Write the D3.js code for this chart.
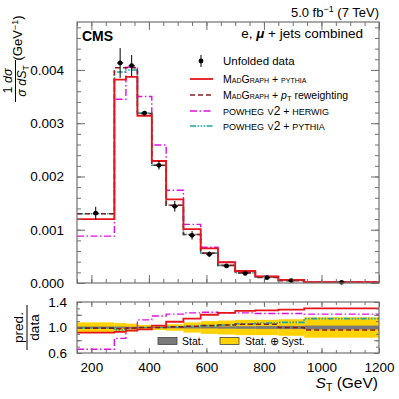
<!DOCTYPE html>
<html>
<head>
<meta charset="utf-8">
<script src="https://cdn.jsdelivr.net/npm/d3@7"></script>
<style>
body { margin: 0; background: #fff; }
text { font-family: "Liberation Sans", Arial, Helvetica, sans-serif; fill: #000; }
</style>
</head>
<body>
<svg id="chart" width="399" height="399"></svg>
<script>
// bin edges of S_T (GeV)
var binEdges = [150, 280, 320, 360, 410, 460, 520, 580, 640, 700, 770, 850, 940, 1200];

// unfolded data and its total uncertainty
var dataVals = [0.00131, 0.00413, 0.00408, 0.00319, 0.00221, 0.00144, 0.000895, 0.00054, 0.00032, 0.00018, 0.0001, 0.000045, 0.000013];
var dataErrs = [0.00012, 0.00028, 0.0002, 0.00004, 0.00008, 0.0001, 0.00008, 0.00005, 0.00003, 0.00002, 0.00001, 0.000006, 0.000003];

// predictions, upper panel
var mgPythia   = [0.0012, 0.00382, 0.00387, 0.00314, 0.00229, 0.00157, 0.00101, 0.00065, 0.00039, 0.000225, 0.000125, 0.000058, 0.000017];
var mgPtRew    = [0.0013, 0.00404, 0.00404, 0.00318, 0.00221, 0.00146, 0.00091, 0.00056, 0.00033, 0.00019, 0.000105, 0.000045, 0.000013];
var powHerwig  = [0.00088, 0.00345, 0.00405, 0.0035, 0.00259, 0.00174, 0.0011, 0.00067, 0.00039, 0.00022, 0.000122, 0.000055, 0.000016];
var powPythia  = [0.0013, 0.00396, 0.004, 0.00319, 0.00221, 0.00146, 0.00091, 0.00056, 0.00033, 0.00019, 0.000107, 0.000049, 0.000015];

// pred./data, lower panel
var rMgPythia  = [0.92, 0.93, 0.95, 0.97, 1.03, 1.09, 1.14, 1.2, 1.23, 1.26, 1.27, 1.28, 1.3];
var rMgPtRew   = [0.99, 0.98, 0.99, 1.0, 1.0, 1.01, 1.02, 1.03, 1.04, 1.05, 1.05, 1.0, 0.96];
var rPowHerwig = [0.66, 0.83, 0.99, 1.12, 1.18, 1.21, 1.23, 1.24, 1.23, 1.23, 1.22, 1.22, 1.21];
var rPowPythia = [0.99, 0.96, 0.98, 1.0, 1.0, 1.01, 1.02, 1.03, 1.04, 1.06, 1.07, 1.08, 1.14];

// relative uncertainty bands (half widths)
var statBand  = [0.015, 0.015, 0.012, 0.008, 0.01, 0.012, 0.015, 0.015, 0.018, 0.02, 0.022, 0.025, 0.03];
var totalBand = [0.08, 0.07, 0.06, 0.04, 0.04, 0.05, 0.08, 0.1, 0.11, 0.12, 0.12, 0.13, 0.16];

var mainTicks = [0, 0.001, 0.002, 0.003, 0.004];
var ratioTicks = [0.6, 1.0, 1.4];
var xTicks = [200, 400, 600, 800, 1000, 1200];

var svg = d3.select("#chart");
var left = 77, right = 379;
var mainTop = 22, mainBot = 283;
var ratTop = 302, ratBot = 353;

var x = d3.scaleLinear().domain([150, 1200]).range([left, right]);
var y = d3.scaleLinear().domain([0, 0.0049]).range([mainBot, mainTop]);
var yr = d3.scaleLinear().domain([0.6, 1.4]).range([ratBot, ratTop]);

var models = [
    {main: powHerwig, ratio: rPowHerwig, color: "#e010e0", width: 1.4, dash: "7,2.5,1.5,2.5"},
    {main: powPythia, ratio: rPowPythia, color: "#1aa6a6", width: 1.6, dash: "6,1.5,1.5,1.5,1.5,1.5,1.5,1.5"},
    {main: mgPtRew, ratio: rMgPtRew, color: "#8b1c1c", width: 1.6, dash: "5,3"},
    {main: mgPythia, ratio: rMgPythia, color: "#e8141c", width: 1.8, dash: null}
];

function stepPoints(vals) {
    var pts = vals.map(function(v, i) { return [binEdges[i], v]; });
    pts.push([binEdges[binEdges.length - 1], vals[vals.length - 1]]);
    return pts;
}

svg.append("defs").append("clipPath").attr("id", "clipR")
    .append("rect").attr("x", left).attr("y", ratTop).attr("width", right - left).attr("height", ratBot - ratTop);

// ---------- upper panel ----------
var lineMain = d3.line().x(function(d) { return x(d[0]); }).y(function(d) { return y(d[1]); }).curve(d3.curveStepAfter);

models.forEach(function(m) {
    svg.append("path")
        .attr("d", lineMain(stepPoints(m.main)))
        .attr("fill", "none")
        .attr("stroke", m.color)
        .attr("stroke-width", m.width)
        .attr("stroke-dasharray", m.dash);
});

var centers = dataVals.map(function(v, i) { return (binEdges[i] + binEdges[i + 1]) / 2; });
var pts = svg.append("g");
dataVals.forEach(function(v, i) {
    var cx = x(centers[i]);
    pts.append("line").attr("x1", cx).attr("x2", cx)
        .attr("y1", y(v + dataErrs[i])).attr("y2", y(v - dataErrs[i]))
        .attr("stroke", "#000").attr("stroke-width", 1);
    pts.append("line").attr("x1", cx - 3).attr("x2", cx + 3)
        .attr("y1", y(v)).attr("y2", y(v))
        .attr("stroke", "#000").attr("stroke-width", 1.2);
    pts.append("circle").attr("cx", cx).attr("cy", y(v)).attr("r", 2.4).attr("fill", "#000");
});

// ---------- lower panel ----------
var bands = svg.append("g").attr("clip-path", "url(#clipR)");
totalBand.forEach(function(b, i) {
    bands.append("rect")
        .attr("x", x(binEdges[i])).attr("width", x(binEdges[i + 1]) - x(binEdges[i]))
        .attr("y", yr(1 + b)).attr("height", yr(1 - b) - yr(1 + b))
        .attr("fill", "#ffd200");
});
statBand.forEach(function(b, i) {
    bands.append("rect")
        .attr("x", x(binEdges[i])).attr("width", x(binEdges[i + 1]) - x(binEdges[i]))
        .attr("y", yr(1 + b)).attr("height", yr(1 - b) - yr(1 + b))
        .attr("fill", "#7a7a7a");
});

var lineRatio = d3.line().x(function(d) { return x(d[0]); }).y(function(d) { return yr(d[1]); }).curve(d3.curveStepAfter);
models.forEach(function(m) {
    bands.append("path")
        .attr("d", lineRatio(stepPoints(m.ratio)))
        .attr("fill", "none")
        .attr("stroke", m.color)
        .attr("stroke-width", m.width)
        .attr("stroke-dasharray", m.dash);
});

// ratio legend
svg.append("rect").attr("x", 158).attr("y", 337.5).attr("width", 19).attr("height", 7)
    .attr("fill", "#7a7a7a").attr("stroke", "#444").attr("stroke-width", 0.8);
svg.append("text").attr("x", 182).attr("y", 344.5).attr("font-size", 10.5).text("Stat.");
svg.append("rect").attr("x", 220).attr("y", 337.5).attr("width", 19).attr("height", 7)
    .attr("fill", "#ffd200").attr("stroke", "#444").attr("stroke-width", 0.8);
svg.append("text").attr("x", 245).attr("y", 344.5).attr("font-size", 10.5).text("Stat. \u2295 Syst.");

// ---------- axes and frames ----------
var axisColor = "#707070";
function styleAxis(g) {
    g.select(".domain").remove();
    g.selectAll(".tick line").attr("stroke", axisColor);
    g.selectAll("text").attr("font-size", 13.5).attr("fill", "#000")
        .attr("font-family", "'Liberation Sans', Arial, sans-serif");
}
function frame(top, bot, yScale, yMajor, yMinor, majLen, minLen, yFmt, showX) {
    var xMinor = d3.range(150, 1201, 50);
    var xMajor = xTicks;
    svg.append("g").attr("transform", "translate(0," + bot + ")")
        .call(d3.axisBottom(x).tickValues(xMinor).tickSize(-minLen).tickFormat("")).call(styleAxis);
    svg.append("g").attr("transform", "translate(0," + top + ")")
        .call(d3.axisTop(x).tickValues(xMinor).tickSize(-minLen).tickFormat("")).call(styleAxis);
    var xb = svg.append("g").attr("transform", "translate(0," + bot + ")")
        .call(d3.axisBottom(x).tickValues(xMajor).tickSize(-majLen).tickPadding(majLen + 4)
            .tickFormat(showX ? d3.format("d") : "")).call(styleAxis);
    xb.selectAll("text").attr("dy", "0.71em");
    svg.append("g").attr("transform", "translate(0," + top + ")")
        .call(d3.axisTop(x).tickValues(xMajor).tickSize(-majLen).tickFormat("")).call(styleAxis);

    svg.append("g").attr("transform", "translate(" + left + ",0)")
        .call(d3.axisLeft(yScale).tickValues(yMinor).tickSize(-minLen).tickFormat("")).call(styleAxis);
    svg.append("g").attr("transform", "translate(" + right + ",0)")
        .call(d3.axisRight(yScale).tickValues(yMinor).tickSize(-minLen).tickFormat("")).call(styleAxis);
    svg.append("g").attr("transform", "translate(" + left + ",0)")
        .call(d3.axisLeft(yScale).tickValues(yMajor).tickSize(-majLen).tickPadding(majLen + 5).tickFormat(yFmt)).call(styleAxis);
    svg.append("g").attr("transform", "translate(" + right + ",0)")
        .call(d3.axisRight(yScale).tickValues(yMajor).tickSize(-majLen).tickFormat("")).call(styleAxis);

    svg.append("rect").attr("x", left).attr("y", top).attr("width", right - left).attr("height", bot - top)
        .attr("fill", "none").attr("stroke", axisColor).attr("stroke-width", 1.2);
}

frame(mainTop, mainBot, y, mainTicks, d3.range(0, 0.00491, 0.0002), 8, 4, d3.format(".3f"), false);
frame(ratTop, ratBot, yr, [0.6, 0.8, 1.0, 1.2, 1.4], d3.range(0.6, 1.401, 0.1), 5, 3, function(d) {
    return ratioTicks.some(function(t) { return Math.abs(t - d) < 1e-6; }) ? d3.format(".1f")(d) : "";
}, true);

// ---------- texts ----------
svg.append("text").attr("x", 379).attr("y", 17).attr("text-anchor", "end").attr("font-size", 13)
    .html('5.0 fb<tspan dy="-5" font-size="9">\u22121</tspan><tspan dy="5"> (7 TeV)</tspan>');
svg.append("text").attr("x", 82).attr("y", 41).attr("font-size", 14).attr("font-weight", "bold").text("CMS");
svg.append("text").attr("x", 363).attr("y", 38).attr("text-anchor", "end").attr("font-size", 13.5)
    .html('e, <tspan font-style="italic" font-weight="bold">\u03bc</tspan> + jets combined');

// legend
var legX = 223;
var legRows = [
    {y: 61, fs: 11.5, html: 'Unfolded data'},
    {y: 79, fs: 10.5, html: '<tspan style="font-variant:small-caps">MadGraph</tspan> + <tspan style="font-variant:small-caps">pythia</tspan>', m: models[3]},
    {y: 95, fs: 10.5, html: '<tspan style="font-variant:small-caps">MadGraph</tspan> + <tspan font-style="italic">p</tspan><tspan dy="2" font-size="7.5">T</tspan><tspan dy="-2"> reweighting</tspan>', m: models[2]},
    {y: 111, fs: 10.5, html: '<tspan style="font-variant:small-caps" font-size="13">powheg v</tspan><tspan font-size="12">2</tspan> + <tspan style="font-variant:small-caps" font-size="13">herwig</tspan>', m: models[0]},
    {y: 126, fs: 10.5, html: '<tspan style="font-variant:small-caps" font-size="13">powheg v</tspan><tspan font-size="12">2</tspan> + <tspan style="font-variant:small-caps" font-size="13">pythia</tspan>', m: models[1]}
];
legRows.forEach(function(r) {
    svg.append("text").attr("x", legX).attr("y", r.y + 4).attr("font-size", r.fs).html(r.html);
    if (r.m) {
        svg.append("line").attr("x1", 190).attr("x2", 213).attr("y1", r.y).attr("y2", r.y)
            .attr("stroke", r.m.color).attr("stroke-width", r.m.width).attr("stroke-dasharray", r.m.dash);
    } else {
        svg.append("line").attr("x1", 201).attr("x2", 201).attr("y1", r.y - 6).attr("y2", r.y + 6)
            .attr("stroke", "#000");
        svg.append("circle").attr("cx", 201).attr("cy", r.y).attr("r", 2.4).attr("fill", "#000");
    }
});

// y title, upper panel
var yt = svg.append("g").attr("transform", "rotate(-90)");
yt.append("text").attr("x", -81).attr("y", 12).attr("text-anchor", "middle").attr("font-size", 12.5)
    .html('1 <tspan font-style="italic">d\u03c3</tspan>');
yt.append("line").attr("x1", -102).attr("x2", -60).attr("y1", 15.5).attr("y2", 15.5).attr("stroke", "#000").attr("stroke-width", 1);
yt.append("text").attr("x", -81).attr("y", 26).attr("text-anchor", "middle").attr("font-size", 12.5)
    .html('<tspan font-style="italic">\u03c3 dS</tspan><tspan dy="3" font-size="8.5">T</tspan>');
yt.append("text").attr("x", -38).attr("y", 22).attr("text-anchor", "middle").attr("font-size", 13)
    .html('(GeV<tspan dy="-4" font-size="9">\u22121</tspan><tspan dy="4">)</tspan>');

// y title, lower panel
var yt2 = svg.append("g").attr("transform", "rotate(-90)");
yt2.append("text").attr("x", -327.5).attr("y", 23).attr("text-anchor", "middle").attr("font-size", 13.5).text("pred.");
yt2.append("line").attr("x1", -350).attr("x2", -305).attr("y1", 27).attr("y2", 27).attr("stroke", "#000").attr("stroke-width", 1);
yt2.append("text").attr("x", -327.5).attr("y", 39).attr("text-anchor", "middle").attr("font-size", 13.5).text("data");

// x title
svg.append("text").attr("x", 378).attr("y", 388).attr("text-anchor", "end").attr("font-size", 15.5)
    .html('<tspan font-style="italic">S</tspan><tspan dy="3" font-size="10.5">T</tspan><tspan dy="-3"> (GeV)</tspan>');
</script>
</body>
</html>
